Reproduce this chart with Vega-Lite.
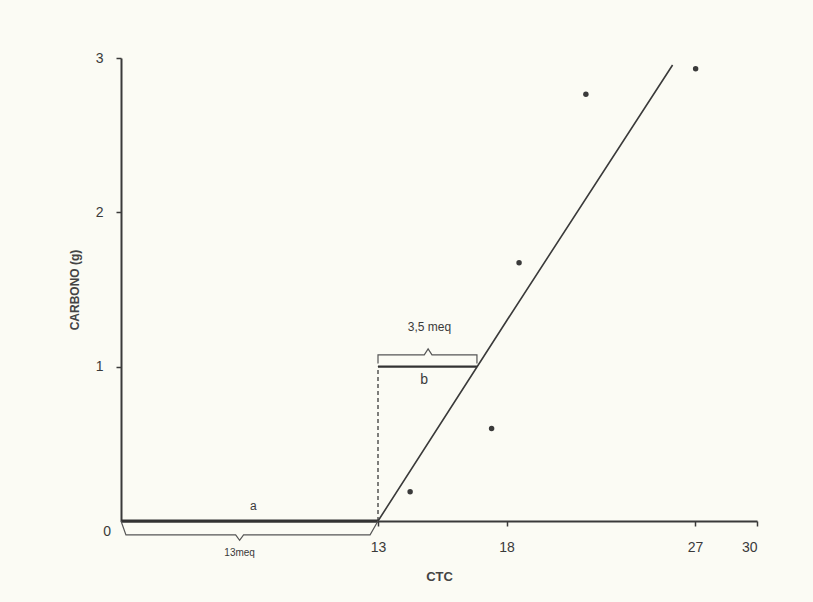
{
  "$schema": "https://vega.github.io/schema/vega-lite/v6.json",
  "width": 636,
  "height": 463,
  "autosize": {"type": "none"},
  "padding": {"left": 121, "top": 58, "right": 56, "bottom": 81},
  "background": "#fbfbf4",
  "config": {
    "view": {"stroke": null},
    "font": "Liberation Sans"
  },
  "encoding": {
    "x": {
      "field": "x", "type": "quantitative",
      "scale": {"domain": [0, 13, 18, 27, 30], "range": [0, 257, 385.5, 574, 636], "nice": false, "zero": false},
      "axis": {
        "values": [13, 18, 27, 30], "title": "CTC", "grid": false,
        "domainColor": "#3a3a3a", "domainWidth": 2, "tickColor": "#3a3a3a", "tickWidth": 1.5, "tickSize": 5,
        "labelPadding": 14, "labelFontSize": 14, "labelColor": "#3a3a3a", "labelFont": "Liberation Sans",
        "titleFontSize": 13, "titleColor": "#444", "titleFontWeight": "bold", "titlePadding": 16, "titleFont": "Liberation Sans"
      }
    },
    "y": {
      "field": "y", "type": "quantitative",
      "scale": {"domain": [0, 3], "nice": false},
      "axis": {
        "values": [1, 2, 3], "title": "CARBONO (g)", "grid": false,
        "domainColor": "#3a3a3a", "domainWidth": 2, "tickColor": "#3a3a3a", "tickWidth": 1.5, "tickSize": 5,
        "labelPadding": 13, "labelFontSize": 14, "labelColor": "#3a3a3a", "labelFont": "Liberation Sans",
        "titleFontSize": 12, "titleColor": "#444", "titleFontWeight": "bold", "titlePadding": 14, "titleFont": "Liberation Sans"
      }
    }
  },
  "layer": [
    {
      "data": {"values": [
        {"x": 13, "y": 0, "i": 0},
        {"x": 18, "y": 1.296, "i": 1},
        {"x": 25.93, "y": 2.955, "i": 2}
      ]},
      "mark": {"type": "line", "color": "#3a3a3a", "strokeWidth": 1.6},
      "encoding": {"order": {"field": "i"}}
    },
    {
      "data": {"values": [
        {"x": 0, "y": 0, "i": 0},
        {"x": 13, "y": 0, "i": 1}
      ]},
      "mark": {"type": "line", "color": "#333", "strokeWidth": 3},
      "encoding": {"order": {"field": "i"}}
    },
    {
      "data": {"values": [
        {"x": 13, "y": 0, "i": 0},
        {"x": 13, "y": 1, "i": 1}
      ]},
      "mark": {"type": "line", "color": "#3a3a3a", "strokeWidth": 1.3, "strokeDash": [4, 3]},
      "encoding": {"order": {"field": "i"}}
    },
    {
      "data": {"values": [
        {"x": 13, "y": 1, "i": 0},
        {"x": 16.85, "y": 1, "i": 1}
      ]},
      "mark": {"type": "line", "color": "#333", "strokeWidth": 2.2},
      "encoding": {"order": {"field": "i"}}
    },
    {
      "data": {"values": [
        {"x": 13, "y": 1.02, "i": 0},
        {"x": 13, "y": 1.076, "i": 1},
        {"x": 14.8, "y": 1.076, "i": 2},
        {"x": 14.95, "y": 1.115, "i": 3},
        {"x": 15.1, "y": 1.076, "i": 4},
        {"x": 16.85, "y": 1.076, "i": 5},
        {"x": 16.85, "y": 1.02, "i": 6}
      ]},
      "mark": {"type": "line", "color": "#555", "strokeWidth": 1.2},
      "encoding": {"order": {"field": "i"}}
    },
    {
      "data": {"values": [
        {"x": 0, "y": 0, "i": 0},
        {"x": 0.25, "y": -0.09, "i": 1},
        {"x": 5.8, "y": -0.09, "i": 2},
        {"x": 6.0, "y": -0.125, "i": 3},
        {"x": 6.2, "y": -0.09, "i": 4},
        {"x": 12.6, "y": -0.09, "i": 5},
        {"x": 13, "y": 0, "i": 6}
      ]},
      "mark": {"type": "line", "color": "#555", "strokeWidth": 1.2, "clip": false},
      "encoding": {"order": {"field": "i"}}
    },
    {
      "data": {"values": [
        {"x": 14.25, "y": 0.19},
        {"x": 17.42, "y": 0.6},
        {"x": 18.6, "y": 1.674},
        {"x": 21.79, "y": 2.765},
        {"x": 27.03, "y": 2.93}
      ]},
      "mark": {"type": "point", "filled": true, "color": "#3a3a3a", "size": 30, "opacity": 1}
    },
    {
      "data": {"values": [
        {"x": 6.7, "y": 0.1, "t": "a", "s": 12},
        {"x": 6.0, "y": -0.21, "t": "13meq", "s": 10},
        {"x": 14.8, "y": 0.915, "t": "b", "s": 14},
        {"x": 15.0, "y": 1.255, "t": "3,5 meq", "s": 12},
        {"x": -0.7, "y": -0.072, "t": "0", "s": 14}
      ]},
      "mark": {"type": "text", "color": "#3a3a3a", "font": "Liberation Sans", "baseline": "middle", "align": "center"},
      "encoding": {
        "text": {"field": "t"},
        "size": {"field": "s", "type": "quantitative", "scale": null}
      }
    }
  ]
}
